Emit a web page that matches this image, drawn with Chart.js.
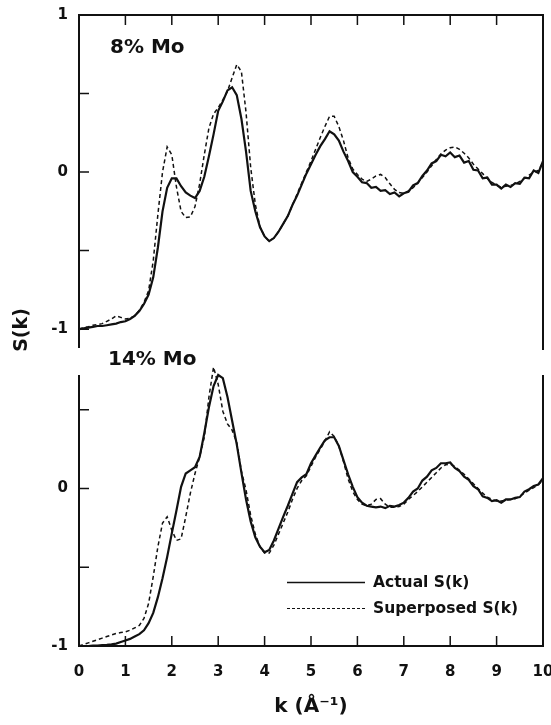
<!DOCTYPE html>
<html>
<head>
<meta charset="utf-8">
<script src="https://cdn.jsdelivr.net/npm/chart.js@4.4.1/dist/chart.umd.min.js"></script>
<style>
  html, body { margin: 0; padding: 0; background: #fff; }
  #wrap { position: relative; width: 551px; height: 725px; }
  #wrap canvas { position: absolute; left: 0; top: 0; }
</style>
</head>
<body>
<div id="wrap">
  <canvas id="topChart" width="551" height="725"></canvas>
  <canvas id="bottomChart" width="551" height="725"></canvas>
</div>
<script>
// k grid (1/Å)
const kValues = [
  0, 0.1, 0.2, 0.3, 0.4, 0.5, 0.6, 0.7, 0.8, 0.9,
  1, 1.1, 1.2, 1.3, 1.4, 1.5, 1.6, 1.7, 1.8, 1.9,
  2, 2.1, 2.2, 2.3, 2.4, 2.5, 2.6, 2.7, 2.8, 2.9,
  3, 3.1, 3.2, 3.3, 3.4, 3.5, 3.6, 3.7, 3.8, 3.9,
  4, 4.1, 4.2, 4.3, 4.4, 4.5, 4.6, 4.7, 4.8, 4.9,
  5, 5.1, 5.2, 5.3, 5.4, 5.5, 5.6, 5.7, 5.8, 5.9,
  6, 6.1, 6.2, 6.3, 6.4, 6.5, 6.6, 6.7, 6.8, 6.9,
  7, 7.1, 7.2, 7.3, 7.4, 7.5, 7.6, 7.7, 7.8, 7.9,
  8, 8.1, 8.2, 8.3, 8.4, 8.5, 8.6, 8.7, 8.8, 8.9,
  9, 9.1, 9.2, 9.3, 9.4, 9.5, 9.6, 9.7, 9.8, 9.9,
  10
];

// 8% Mo
const topActual = [
  -1.0, -0.995, -0.99, -0.985, -0.98, -0.98, -0.975, -0.97, -0.965, -0.955,
  -0.95, -0.935, -0.915, -0.885, -0.84, -0.78, -0.67, -0.48, -0.25, -0.10,
  -0.04, -0.04, -0.09, -0.13, -0.15, -0.165, -0.12, -0.03, 0.10, 0.24,
  0.39, 0.45, 0.52, 0.54, 0.49, 0.34, 0.13, -0.12, -0.25, -0.35,
  -0.41, -0.44, -0.42, -0.38, -0.33, -0.28, -0.21, -0.15, -0.08, -0.01,
  0.05, 0.11, 0.165, 0.21, 0.26, 0.24, 0.20, 0.13, 0.07, 0.0,
  -0.03, -0.065, -0.07, -0.10, -0.095, -0.12, -0.115, -0.14, -0.13, -0.155,
  -0.135, -0.125, -0.085, -0.07, -0.025, 0.01, 0.055, 0.07, 0.11, 0.10,
  0.125, 0.095, 0.105, 0.06, 0.07, 0.015, 0.01, -0.04, -0.035, -0.08,
  -0.08, -0.105, -0.08, -0.095, -0.07, -0.075, -0.035, -0.04, 0.01, -0.005,
  0.07
];
const topSuperposed = [
  -1.0, -0.99, -0.985, -0.975, -0.97, -0.965, -0.95, -0.935, -0.915, -0.925,
  -0.935, -0.93, -0.915, -0.88, -0.83, -0.755, -0.565, -0.27, 0.0, 0.16,
  0.11, -0.095, -0.25, -0.29, -0.285, -0.22, -0.075, 0.11, 0.28, 0.37,
  0.41, 0.46, 0.515, 0.60, 0.685, 0.64, 0.38, 0.03, -0.205, -0.35,
  -0.41, -0.44, -0.42, -0.38, -0.33, -0.28, -0.21, -0.14, -0.07, 0.0,
  0.07, 0.145, 0.22, 0.29, 0.355, 0.355, 0.29, 0.20, 0.09, 0.02,
  -0.015, -0.045, -0.06, -0.045, -0.025, -0.015, -0.035, -0.075, -0.11, -0.13,
  -0.135, -0.12, -0.10, -0.07, -0.035, 0.0, 0.04, 0.08, 0.115, 0.14,
  0.155, 0.16, 0.145, 0.12, 0.09, 0.05, 0.02, -0.01, -0.04, -0.065,
  -0.085, -0.095, -0.09, -0.085, -0.075, -0.06, -0.04, -0.02, 0.0, 0.01,
  0.06
];

// 14% Mo
const bottomActual = [
  -1.0, -1.0, -1.0, -0.998, -0.997, -0.995, -0.993, -0.99, -0.985, -0.975,
  -0.965, -0.955, -0.94, -0.925, -0.90, -0.855, -0.79, -0.69, -0.57, -0.435,
  -0.285, -0.14, 0.01, 0.095, 0.115, 0.135, 0.20, 0.35, 0.515, 0.65,
  0.72, 0.70, 0.58, 0.43, 0.28, 0.10, -0.07, -0.21, -0.31, -0.37,
  -0.405, -0.39, -0.33, -0.255, -0.18, -0.11, -0.035, 0.04, 0.07, 0.09,
  0.16, 0.21, 0.26, 0.305, 0.325, 0.325, 0.27, 0.18, 0.09, 0.01,
  -0.055, -0.09, -0.11, -0.115, -0.12, -0.115, -0.125, -0.11, -0.115, -0.105,
  -0.09, -0.06, -0.02, 0.0, 0.05, 0.075, 0.115, 0.13, 0.16, 0.16,
  0.165, 0.13, 0.11, 0.075, 0.055, 0.015, -0.005, -0.05, -0.06, -0.08,
  -0.075, -0.09, -0.07, -0.07, -0.06, -0.055, -0.02, -0.005, 0.015, 0.025,
  0.065
];
const bottomSuperposed = [
  -1.0, -0.99, -0.98, -0.97, -0.96, -0.95, -0.94, -0.93, -0.92, -0.915,
  -0.91, -0.90, -0.885, -0.87, -0.825, -0.73, -0.56, -0.37, -0.22, -0.18,
  -0.265, -0.33, -0.32, -0.18, -0.03, 0.095, 0.20, 0.325, 0.58, 0.77,
  0.66, 0.49, 0.41, 0.37, 0.29, 0.11, -0.01, -0.17, -0.29, -0.37,
  -0.41, -0.41, -0.36, -0.29, -0.22, -0.15, -0.07, 0.0, 0.05, 0.08,
  0.14, 0.20, 0.25, 0.30, 0.36, 0.33, 0.27, 0.17, 0.06, -0.02,
  -0.07, -0.10, -0.11, -0.10, -0.07, -0.065, -0.10, -0.12, -0.12, -0.115,
  -0.10, -0.07, -0.045, -0.02, 0.01, 0.04, 0.07, 0.10, 0.13, 0.15,
  0.155, 0.14, 0.115, 0.09, 0.06, 0.03, 0.0, -0.03, -0.055, -0.07,
  -0.08, -0.08, -0.075, -0.07, -0.065, -0.05, -0.03, -0.01, 0.005, 0.025,
  0.05
];

const xTicks = [0, 1, 2, 3, 4, 5, 6, 7, 8, 9, 10];
const yTicks = [-1, -0.5, 0, 0.5, 1];
const seriesNames = ['Actual S(k)', 'Superposed S(k)'];
const panelNames = ['8% Mo', '14% Mo'];

const INK = '#111';
const FONT = '"DejaVu Sans", sans-serif';

function makeDataset(label, values, dashed) {
  return {
    label: label,
    data: values,
    borderColor: INK,
    borderWidth: dashed ? 1.5 : 2.2,
    borderDash: dashed ? [4, 3] : [],
    pointRadius: 0,
    tension: 0,
    fill: false,
    clip: false
  };
}

// axis frame, inward ticks, panel label, shared y title and legend
const panelPlugin = {
  id: 'panel',
  afterDatasetsDraw(chart, args, opts) {
    const ctx = chart.ctx;
    const {left, right, top, bottom} = chart.chartArea;
    const xs = chart.scales.x, ys = chart.scales.y;
    ctx.save();
    ctx.strokeStyle = INK;
    ctx.fillStyle = INK;

    ctx.lineWidth = 2;
    ctx.beginPath();
    if (opts.edges.includes('top')) { ctx.moveTo(left - 1, top); ctx.lineTo(right + 1, top); }
    if (opts.edges.includes('bottom')) { ctx.moveTo(left - 1, bottom); ctx.lineTo(right + 1, bottom); }
    ctx.moveTo(left, top); ctx.lineTo(left, bottom);
    ctx.moveTo(right, top); ctx.lineTo(right, bottom + (opts.edges.includes('bottom') ? 0 : 2));
    ctx.stroke();

    ctx.lineWidth = 1.5;
    ctx.beginPath();
    const xEdge = opts.xTickSide === 'top' ? top : bottom;
    const dir = opts.xTickSide === 'top' ? 1 : -1;
    xTicks.forEach(v => {
      if (v <= xs.min || v >= xs.max) return;
      const px = xs.getPixelForValue(v);
      ctx.moveTo(px, xEdge); ctx.lineTo(px, xEdge + dir * 10);
    });
    yTicks.forEach(v => {
      if (v <= ys.min || v >= ys.max) return;
      const py = ys.getPixelForValue(v);
      ctx.moveTo(left, py); ctx.lineTo(left + 10, py);
    });
    ctx.stroke();

    ctx.font = 'bold 20px ' + FONT;
    ctx.textBaseline = 'middle';
    ctx.textAlign = 'left';
    ctx.fillText(opts.label, opts.labelX, opts.labelY);

    if (opts.yTitle) {
      ctx.save();
      ctx.translate(opts.yTitle.x, opts.yTitle.y);
      ctx.rotate(-Math.PI / 2);
      ctx.textAlign = 'center';
      ctx.font = 'bold 19px ' + FONT;
      ctx.fillText(opts.yTitle.text, 0, 0);
      ctx.restore();
    }

    if (opts.legend) {
      const lg = opts.legend;
      ctx.font = 'bold 15.5px ' + FONT;
      chart.data.datasets.forEach((ds, i) => {
        const y = Math.round(lg.y + i * lg.gap) + 0.5;
        ctx.save();
        ctx.lineWidth = ds.borderDash.length ? 1.2 : 1.6;
        ctx.setLineDash(ds.borderDash.length ? [3, 2] : []);
        ctx.beginPath();
        ctx.moveTo(lg.x, y); ctx.lineTo(lg.x + lg.len, y);
        ctx.stroke();
        ctx.restore();
        ctx.fillText(ds.label, lg.textX, y);
      });
    }
    ctx.restore();
  }
};

function yScale(min, max) {
  return {
    min: min,
    max: max,
    afterBuildTicks: s => {
      s.ticks = yTicks.filter(v => v >= s.min && v <= s.max).map(v => ({value: v}));
    },
    afterFit: s => { s.width = 79; s.paddingTop = 0; s.paddingBottom = 0; },
    grid: { display: false, drawTicks: false },
    border: { display: false },
    ticks: {
      padding: 11,
      color: INK,
      font: { family: FONT, size: 15, weight: 'bold' },
      callback: v => Number.isInteger(v) ? String(v) : ''
    }
  };
}

new Chart(document.getElementById('topChart'), {
  type: 'line',
  data: {
    labels: kValues,
    datasets: [
      makeDataset(seriesNames[1], topSuperposed, true),
      makeDataset(seriesNames[0], topActual, false)
    ]
  },
  options: {
    responsive: false,
    animation: false,
    events: [],
    layout: { padding: { top: 15, right: 8, bottom: 377, left: 0 } },
    scales: {
      x: { type: 'linear', min: 0, max: 10, display: false },
      y: yScale(-1.12, 1)
    },
    plugins: {
      legend: { display: false },
      tooltip: { enabled: false },
      panel: {
        edges: ['top'],
        xTickSide: 'top',
        label: panelNames[0],
        labelX: 110,
        labelY: 48,
        yTitle: { text: 'S(k)', x: 22, y: 330 }
      }
    }
  },
  plugins: [panelPlugin]
});

new Chart(document.getElementById('bottomChart'), {
  type: 'line',
  data: {
    labels: kValues,
    datasets: [
      makeDataset(seriesNames[0], bottomActual, false),
      makeDataset(seriesNames[1], bottomSuperposed, true)
    ]
  },
  options: {
    responsive: false,
    animation: false,
    events: [],
    layout: { padding: { top: 375, right: 8, bottom: 0, left: 0 } },
    scales: {
      x: {
        type: 'linear',
        min: 0,
        max: 10,
        afterBuildTicks: s => { s.ticks = xTicks.map(v => ({value: v})); },
        afterFit: s => { s.height = 79; s.paddingLeft = 0; s.paddingRight = 0; },
        grid: { display: false, drawTicks: false },
        border: { display: false },
        ticks: {
          padding: 17,
          maxRotation: 0,
          autoSkip: false,
          color: INK,
          font: { family: FONT, size: 15, weight: 'bold' }
        },
        title: {
          display: true,
          text: 'k (Å⁻¹)',
          color: INK,
          font: { family: FONT, size: 20, weight: 'bold' },
          padding: { top: 0, bottom: 6 }
        }
      },
      y: yScale(-1, 0.72)
    },
    plugins: {
      legend: { display: false },
      tooltip: { enabled: false },
      panel: {
        edges: ['bottom'],
        xTickSide: 'bottom',
        label: panelNames[1],
        labelX: 108,
        labelY: 360,
        legend: { x: 287, y: 582, gap: 26, len: 78, textX: 373 }
      }
    }
  },
  plugins: [panelPlugin]
});
</script>
</body>
</html>
